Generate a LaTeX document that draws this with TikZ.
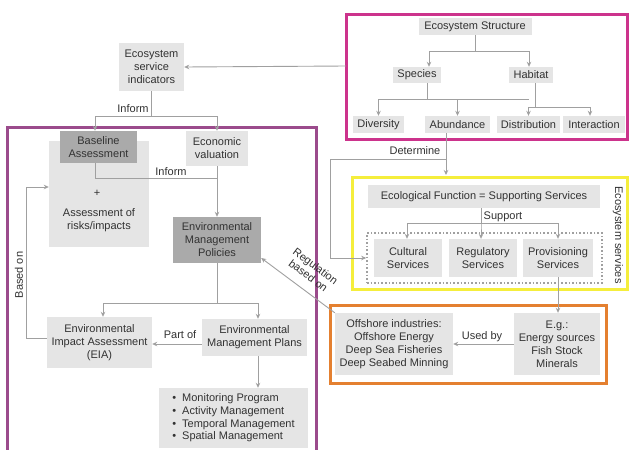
\documentclass[tikz,border=0pt]{standalone}
\usepackage{fontspec}
\setmainfont{Liberation Sans}
\usetikzlibrary{arrows.meta}
\definecolor{boxg}{RGB}{229,229,229}
\definecolor{darkg}{RGB}{170,170,170}
\definecolor{lineg}{RGB}{160,160,160}
\definecolor{txt}{RGB}{50,50,50}
\definecolor{pinkc}{RGB}{204,51,140}
\definecolor{purpc}{RGB}{155,75,140}
\definecolor{yellc}{RGB}{245,238,60}
\definecolor{orac}{RGB}{228,128,48}
\begin{document}
\begin{tikzpicture}[x=1pt,y=-1pt,
  every node/.style={font=\fontsize{11}{13}\selectfont, text=txt, inner sep=0pt, align=center},
  lbox/.style={fill=boxg},
  dbox/.style={fill=darkg},
  ln/.style={draw=lineg, line width=0.9pt},
  arr/.style={ln, -{Stealth[length=5pt,width=4.5pt]}},
  frame/.style={line width=3pt}]
\useasboundingbox (0,0) rectangle (630,450);
\fill[white] (0,0) rectangle (630,450);

% frames
\draw[frame, draw=pinkc] (346,14) rectangle (627,139);
\draw[frame, draw=purpc] (7,127) rectangle (316,455);
\draw[frame, draw=yellc] (352,177) rectangle (627,289);
\draw[frame, draw=orac] (330,305) rectangle (606,383);
\node[draw=lineg, dotted, line width=1.6pt, minimum width=235pt, minimum height=50pt] (svc) at (484.5,258) {};

% top-right structure
\node[lbox, minimum width=113pt, minimum height=17pt] (es) at (475,26.5) {Ecosystem Structure};
\node[lbox, minimum width=48pt, minimum height=16pt] (sp) at (417,75) {Species};
\node[lbox, minimum width=44pt, minimum height=16pt] (hab) at (531,75) {Habitat};
\node[lbox, minimum width=51pt, minimum height=17pt] (div) at (378.5,124.5) {Diversity};
\node[lbox, minimum width=65pt, minimum height=17pt] (abu) at (457.5,124.5) {Abundance};
\node[lbox, minimum width=63pt, minimum height=17pt] (dis) at (528.5,124.5) {Distribution};
\node[lbox, minimum width=62pt, minimum height=17pt] (int) at (594,124.5) {Interaction};

% indicators
\node[lbox, minimum width=65pt, minimum height=48pt] (esi) at (151.5,67) {Ecosystem\\service\\indicators};
\coordinate (pinkL) at (346,66);

% left block
\node[lbox, minimum width=100pt, minimum height=106pt] (ar) at (99,194) {};
\node (plus) at (97,193) {+};
\node (artxt) at (99,220) {Assessment of\\risks/impacts};
\node[dbox, minimum width=77pt, minimum height=32pt] (ba) at (98.5,147) {Baseline\\Assessment};
\node[lbox, minimum width=62pt, minimum height=35pt] (ev) at (217,148.5) {Economic\\valuation};
\node[dbox, minimum width=88pt, minimum height=46pt] (emp) at (217,240) {Environmental\\Management\\Policies};
\node[lbox, minimum width=105pt, minimum height=51pt] (eia) at (99.5,342.5) {Environmental\\Impact Assessment\\(EIA)};
\node[lbox, minimum width=105pt, minimum height=37pt] (empl) at (254.5,337.5) {Environmental\\Management Plans};
\node[lbox, minimum width=149pt, minimum height=60pt, align=left, font=\fontsize{11}{12.7}\selectfont] (list) at (233.5,418)
  {\textbullet\hspace{6pt}Monitoring Program\\\textbullet\hspace{6pt}Activity Management\\\textbullet\hspace{6pt}Temporal Management\\\textbullet\hspace{6pt}Spatial Management};

% services
\node[lbox, minimum width=232pt, minimum height=23pt] (eco) at (484,196.5) {Ecological Function = Supporting Services};
\node[lbox, minimum width=68pt, minimum height=38pt] (cult) at (408,258) {Cultural\\Services};
\node[lbox, minimum width=68pt, minimum height=38pt] (reg) at (483,258) {Regulatory\\Services};
\node[lbox, minimum width=70pt, minimum height=38pt] (prov) at (558,258) {Provisioning\\Services};
\node[rotate=-90] (esv) at (618,235) {Ecosystem services};

% industries
\node[lbox, minimum width=86pt, minimum height=62pt] (eg) at (557,344) {E.g.:\\Energy sources\\Fish Stock\\Minerals};
\node[lbox, minimum width=118pt, minimum height=62pt] (off) at (394,344) {Offshore industries:\\Offshore Energy\\Deep Sea Fisheries\\Deep Seabed Minning};

% connectors: structure tree
\draw[arr] (es.south) -- ++(0,16) -| ([xshift=12pt]sp.north);
\draw[arr] (es.south) -- ++(0,16) -| ([xshift=-2pt]hab.north);
\draw[arr] ([xshift=10pt]sp.south) -- ++(0,16) -| (div.north);
\draw[arr] ([xshift=10pt]sp.south) -- ++(0,16) -| (abu.north);
\draw[arr] ([xshift=4pt]hab.south) -- ++(0,24) -| (dis.north);
\draw[arr] ([xshift=4pt]hab.south) -- ++(0,24) -| ([xshift=-4pt]int.north);
\draw[ln] (abu.north |- 0,99) -- (dis.north |- 0,99);

% to indicators
\draw[arr] (pinkL) -- (esi.east);
\draw[arr] (esi.south) -- ++(0,25) -| ([xshift=-3.5pt]ba.north);
\draw[arr] (esi.south) -- ++(0,25) -| (ev.north);
\node (inf1) at (133,108.5) {Inform};

% inform to policies
\draw[ln] ([xshift=-3.5pt]ba.south) |- (ev.south |- 0,178);
\draw[arr] (ev.south) -- (emp.north);
\node (inf2) at (171,171.5) {Inform};

% policies to EIA / plans
\draw[arr] (emp.south) -- (emp.south |- 0,303) -| ([xshift=3.5pt]eia.north);
\draw[arr] (emp.south) -- (emp.south |- 0,303) -| ([xshift=3.5pt]empl.north);
\draw[arr] (empl.west |- 0,344) -- (eia.east |- 0,344);
\node (partof) at (180,335) {Part of};
\draw[arr] ([xshift=3.5pt]empl.south) -- ([xshift=3.5pt]empl.south |- list.north);

% based on
\draw[arr] (eia.west |- 0,338) -- (26,338) -- (26,187) -- (ar.west |- 0,187);
\node[rotate=90] (basedon) at (19,275) {Based on};

% determine
\coordinate (detEnd) at (446,175);
\draw[arr] ([xshift=-11.5pt]abu.south) -- (detEnd);
\draw[arr] ([xshift=-11.5pt]abu.south |- 0,159) -- (330,159) -- (330,258) -- (svc.west);
\node (determine) at (415,150.5) {Determine};

% support
\draw[arr] ([xshift=-3pt]eco.south) -- ++(0,15) -| ([xshift=-1pt]cult.north);
\draw[arr] ([xshift=-3pt]eco.south) -- ++(0,15) -| ([xshift=-2pt]reg.north);
\draw[arr] ([xshift=-3pt]eco.south) -- ++(0,15) -| (prov.north);
\node (support) at (503,217) {Support};

% provisioning to eg, used by
\draw[arr] (prov.south) -- (prov.south |- eg.north);
\draw[arr] (eg.west) -- (off.east);
\node (usedby) at (482,337) {Used by};

% regulation based on
\draw[arr] (off.north west) -- ([yshift=-18pt]emp.east);
\node[rotate=-37, font=\fontsize{11}{12}\selectfont] (regl) at (312,271) {Regulation\\based on};
\end{tikzpicture}
\end{document}
